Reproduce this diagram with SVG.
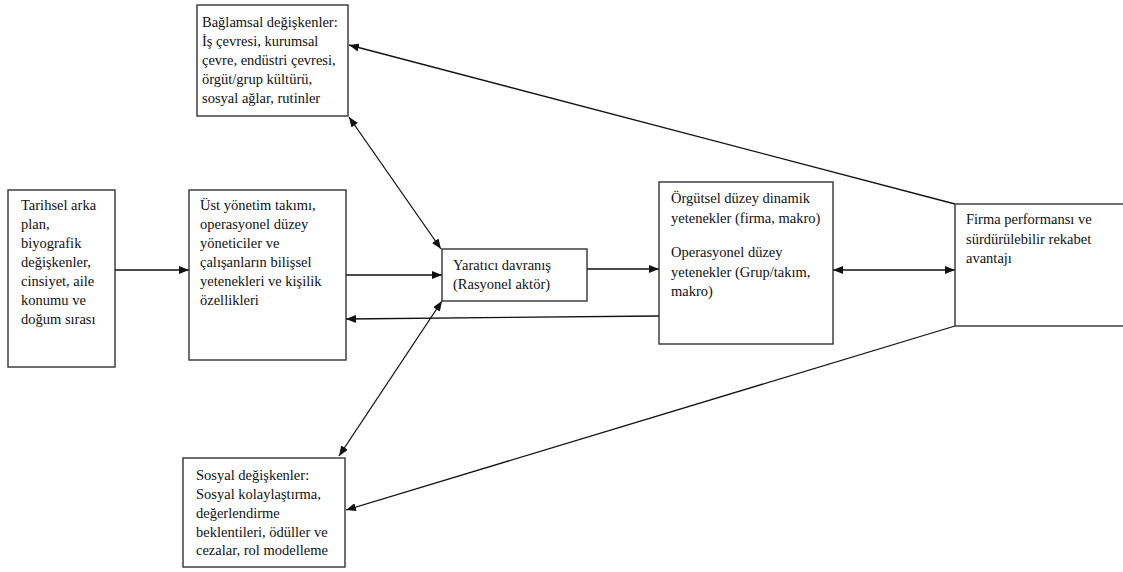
<svg xmlns="http://www.w3.org/2000/svg" width="1123" height="572" viewBox="0 0 1123 572">
<style>
.box{fill:#fff;stroke:#333;stroke-width:1.4}
.t{font-family:"Liberation Serif","Times New Roman",serif;font-size:14.5px;fill:#111}
.c{fill:none;stroke:#111;stroke-width:1.3}
</style>
<defs>
<marker id="ah" markerUnits="userSpaceOnUse" markerWidth="10" markerHeight="8" refX="10" refY="4" orient="auto-start-reverse">
<path d="M0,0 L10,4 L0,8 z" fill="#111"/>
</marker>
</defs>
<rect width="1123" height="572" fill="#fff"/>
<g id="connectors">
<line class="c" x1="115" y1="270" x2="189" y2="270" marker-end="url(#ah)"/>
<line class="c" x1="346" y1="275" x2="442" y2="275" marker-end="url(#ah)"/>
<line class="c" x1="587" y1="269" x2="659" y2="269" marker-end="url(#ah)"/>
<line class="c" x1="659" y1="316" x2="346" y2="319" marker-end="url(#ah)"/>
<line class="c" x1="833" y1="270" x2="955" y2="270" marker-start="url(#ah)" marker-end="url(#ah)"/>
<line class="c" x1="955" y1="204" x2="349" y2="45" marker-end="url(#ah)"/>
<line class="c" x1="955" y1="326" x2="346" y2="510" marker-end="url(#ah)"/>
<line class="c" x1="349" y1="117" x2="441" y2="249" marker-start="url(#ah)" marker-end="url(#ah)"/>
<line class="c" x1="442" y1="301" x2="339" y2="456" marker-start="url(#ah)" marker-end="url(#ah)"/>
</g>
<g id="baglamsal">
<rect class="box" x="197" y="5" width="151" height="111"/>
<text class="t" x="202" y="27">Bağlamsal değişkenler:</text>
<text class="t" x="202" y="46">İş çevresi, kurumsal</text>
<text class="t" x="202" y="65">çevre, endüstri çevresi,</text>
<text class="t" x="202" y="84">örgüt/grup kültürü,</text>
<text class="t" x="202" y="103">sosyal ağlar, rutinler</text>
</g>
<g id="tarihsel">
<rect class="box" x="8" y="190" width="107" height="177"/>
<text class="t" x="21" y="210">Tarihsel arka</text>
<text class="t" x="21" y="229">plan,</text>
<text class="t" x="21" y="248">biyografik</text>
<text class="t" x="21" y="267">değişkenler,</text>
<text class="t" x="21" y="286">cinsiyet, aile</text>
<text class="t" x="21" y="305">konumu ve</text>
<text class="t" x="21" y="324">doğum sırası</text>
</g>
<g id="ust">
<rect class="box" x="189" y="190" width="157" height="170"/>
<text class="t" x="200" y="210">Üst yönetim takımı,</text>
<text class="t" x="200" y="229">operasyonel düzey</text>
<text class="t" x="200" y="248">yöneticiler ve</text>
<text class="t" x="200" y="267">çalışanların bilişsel</text>
<text class="t" x="200" y="286">yetenekleri ve kişilik</text>
<text class="t" x="200" y="305">özellikleri</text>
</g>
<g id="yaratici">
<rect class="box" x="442" y="249" width="145" height="52"/>
<text class="t" x="453" y="270">Yaratıcı davranış</text>
<text class="t" x="453" y="289">(Rasyonel aktör)</text>
</g>
<g id="orgutsel">
<rect class="box" x="659" y="182" width="174" height="162"/>
<text class="t" x="671" y="203">Örgütsel düzey dinamik</text>
<text class="t" x="671" y="223">yetenekler (firma, makro)</text>
<text class="t" x="671" y="257">Operasyonel düzey</text>
<text class="t" x="671" y="277">yetenekler (Grup/takım,</text>
<text class="t" x="671" y="296">makro)</text>
</g>
<g id="firma">
<rect class="box" x="955" y="204" width="200" height="122"/>
<text class="t" x="966" y="224">Firma performansı ve</text>
<text class="t" x="966" y="244">sürdürülebilir rekabet</text>
<text class="t" x="966" y="263">avantajı</text>
</g>
<g id="sosyal">
<rect class="box" x="183" y="458" width="162" height="109"/>
<text class="t" x="196" y="480">Sosyal değişkenler:</text>
<text class="t" x="196" y="499">Sosyal kolaylaştırma,</text>
<text class="t" x="196" y="518">değerlendirme</text>
<text class="t" x="196" y="537">beklentileri, ödüller ve</text>
<text class="t" x="196" y="555">cezalar, rol modelleme</text>
</g>
</svg>
